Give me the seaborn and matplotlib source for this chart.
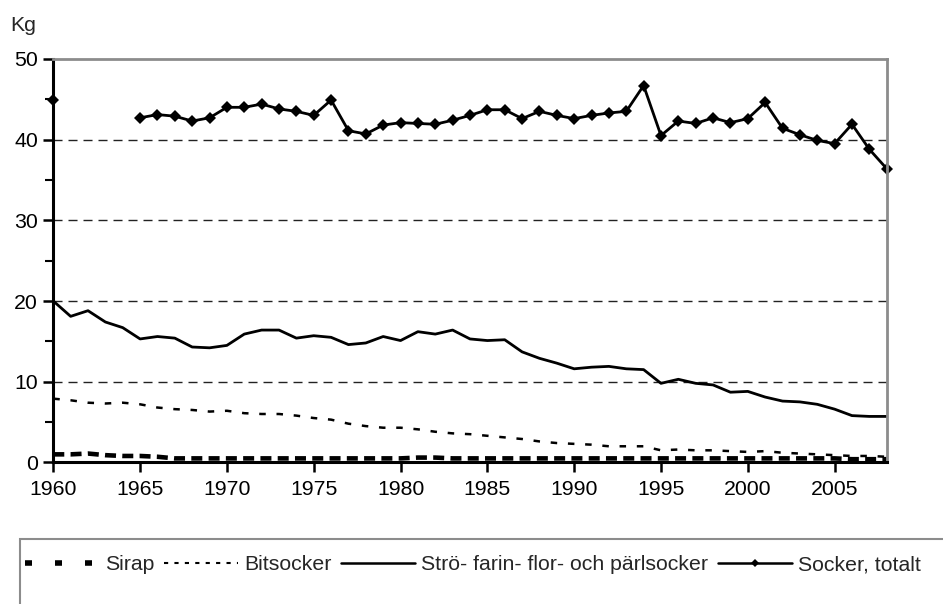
import numpy as np
import pandas as pd
import matplotlib
matplotlib.use("Agg")
import matplotlib.pyplot as plt
import seaborn as sns
from matplotlib.patches import Rectangle
from matplotlib.lines import Line2D

# data (kg per person and year)
years = list(range(1960, 2009))

sirap = [1.0, 1.0, 1.1, 0.9, 0.8, 0.8, 0.7, 0.5, 0.5, 0.5,
         0.5, 0.5, 0.5, 0.5, 0.5, 0.5, 0.5, 0.5, 0.5, 0.5,
         0.5, 0.6, 0.6, 0.5, 0.5, 0.5, 0.5, 0.5, 0.5, 0.5,
         0.5, 0.5, 0.5, 0.5, 0.5, 0.5, 0.5, 0.5, 0.5, 0.5,
         0.5, 0.5, 0.5, 0.5, 0.5, 0.5, 0.4, 0.4, 0.4]

bitsocker = [7.9, 7.7, 7.4, 7.3, 7.4, 7.2, 6.8, 6.6, 6.5, 6.3,
             6.4, 6.1, 6.0, 6.0, 5.8, 5.5, 5.3, 4.8, 4.5, 4.3,
             4.3, 4.1, 3.8, 3.6, 3.5, 3.3, 3.1, 2.9, 2.6, 2.4,
             2.3, 2.2, 2.0, 2.0, 2.0, 1.5, 1.6, 1.5, 1.5, 1.4,
             1.3, 1.4, 1.2, 1.1, 1.0, 0.9, 0.8, 0.8, 0.7]

stro = [20.0, 18.1, 18.8, 17.4, 16.7, 15.3, 15.6, 15.4, 14.3, 14.2,
        14.5, 15.9, 16.4, 16.4, 15.4, 15.7, 15.5, 14.6, 14.8, 15.6,
        15.1, 16.2, 15.9, 16.4, 15.3, 15.1, 15.2, 13.7, 12.9, 12.3,
        11.6, 11.8, 11.9, 11.6, 11.5, 9.8, 10.3, 9.8, 9.6, 8.7,
        8.8, 8.1, 7.6, 7.5, 7.2, 6.6, 5.8, 5.7, 5.7]

totalt = [44.9, np.nan, np.nan, np.nan, np.nan, 42.7, 43.1, 42.9, 42.3, 42.7,
          44.0, 44.0, 44.4, 43.8, 43.5, 43.0, 44.9, 41.1, 40.7, 41.8,
          42.1, 42.0, 41.9, 42.4, 43.0, 43.7, 43.7, 42.6, 43.5, 43.0,
          42.6, 43.0, 43.3, 43.5, 46.7, 40.5, 42.3, 42.0, 42.7, 42.1,
          42.6, 44.6, 41.4, 40.6, 39.9, 39.5, 41.9, 38.8, 36.4]

labels = ["Sirap", "Bitsocker", "Strö- farin- flor- och pärlsocker", "Socker, totalt"]

df = pd.DataFrame({"year": years, "sirap": sirap, "bitsocker": bitsocker,
                   "stro": stro, "totalt": totalt})
# the total series has a gap 1961-1964, so split it into runs
df["run"] = df["totalt"].isna().cumsum()

sns.set_style("white")
plt.rcParams['font.family'] = ['Liberation Sans', 'DejaVu Sans']
FS = 15.3

fig = plt.figure(figsize=(9.43, 6.04), dpi=100)
ax = fig.add_axes([0.0565, 0.2344, 0.8838, 0.6681])

sns.lineplot(data=df, x="year", y="sirap", ax=ax, color="black", lw=3.3,
             estimator=None)
ax.lines[-1].set_dashes((2.4, 1.37))
sns.lineplot(data=df, x="year", y="bitsocker", ax=ax, color="black", lw=1.8,
             estimator=None)
ax.lines[-1].set_dashes((2.6, 4.3))
sns.lineplot(data=df, x="year", y="stro", ax=ax, color="black", lw=2.0,
             estimator=None)
sns.lineplot(data=df.dropna(subset=["totalt"]), x="year", y="totalt", units="run",
             ax=ax, color="black", lw=2.0, marker="D", markersize=6,
             markeredgewidth=0, estimator=None)
for ln in ax.lines:
    ln.set_clip_on(False)

ax.set_xlim(1960, 2008)
ax.set_ylim(0, 50)
ax.set_xticks(range(1960, 2009, 5))
ax.set_yticks(range(0, 51, 10))
ax.set_yticks(range(5, 50, 10), minor=True)
ax.set_xlabel("")
ax.set_ylabel("")

for y in [10, 20, 30, 40]:
    ax.axhline(y, color="#222222", lw=1.0, dashes=(6.5, 4.3), zorder=0)

for s in ["left", "bottom"]:
    ax.spines[s].set_color("black")
    ax.spines[s].set_linewidth(2.2)
for s in ["top", "right"]:
    ax.spines[s].set_color("#8c8c8c")
    ax.spines[s].set_linewidth(2)

ax.tick_params(axis="both", which="major", direction="out", length=7, width=1.8,
               colors="black", labelsize=FS, pad=4)
ax.tick_params(axis="y", which="minor", direction="out", length=6, width=1.5,
               colors="black", left=True)
ax.tick_params(axis="x", pad=6)
ax.tick_params(left=True, bottom=True)

fig.text(0.011, 0.958, "Kg", fontsize=FS, va="center", ha="left")

# legend frame runs off the figure edge
fig.patches.append(Rectangle((20 / 943, -0.1), 1.0, 1 - 539 / 604 + 0.1,
                             transform=fig.transFigure, fill=False,
                             edgecolor="#8c8c8c", lw=1.5))

handles = [
    Line2D([], [], color="black", lw=4, dashes=(1.26, 4.14)),
    Line2D([], [], color="black", lw=1.5, dashes=(2.0, 3.0)),
    Line2D([], [], color="black", lw=1.8),
    Line2D([], [], color="black", lw=1.8, marker="D", markersize=4, markeredgewidth=0),
]
fig.legend(handles, labels, loc="center left", bbox_to_anchor=(0.026, 1 - 565 / 604),
           ncol=4, frameon=False, handlelength=3.5, handletextpad=0.28,
           columnspacing=0.45, fontsize=FS, borderaxespad=0, borderpad=0)

fig.savefig("out.png", dpi=100)
